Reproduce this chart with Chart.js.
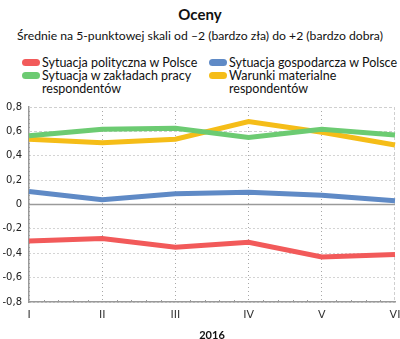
<!DOCTYPE html>
<html>
<head>
<meta charset="utf-8">
<script src="https://cdn.jsdelivr.net/npm/chart.js@4.4.1/dist/chart.umd.min.js"></script>
<style>
  html, body { margin: 0; padding: 0; background: #fff; }
  body { width: 400px; height: 339px; position: relative; overflow: hidden; font-family: Lato, sans-serif; color: #111; }
  #title { position: absolute; top: 5px; left: 0; width: 400px; text-align: center; font-weight: bold; font-size: 15px; }
  #subtitle { position: absolute; top: 28px; left: 0; width: 400px; text-align: center; font-size: 12.2px; }
  .leg { position: absolute; font-size: 12.5px; line-height: 13px; }
  .leg .sw { position: absolute; left: -20px; top: 3px; width: 18px; height: 7px; border-radius: 4px; }
  #chart { position: absolute; top: 0; left: 0; }
</style>
</head>
<body>
<div id="title">Oceny</div>
<div id="subtitle">Średnie na 5-punktowej skali od –2 (bardzo zła) do +2 (bardzo dobra)</div>
<div id="legend"></div>
<canvas id="chart" width="400" height="339"></canvas>
<script>
const months = ['I', 'II', 'III', 'IV', 'V', 'VI'];
const yearLabel = '2016';

const seriesNames = [
  'Sytuacja polityczna w Polsce',
  'Sytuacja gospodarcza w Polsce',
  'Sytuacja w zakładach pracy respondentów',
  'Warunki materialne respondentów'
];
const polityczna = [-0.30, -0.28, -0.35, -0.31, -0.43, -0.41];
const gospodarcza = [0.107, 0.04, 0.088, 0.10, 0.075, 0.03];
const zaklady = [0.565, 0.617, 0.625, 0.55, 0.617, 0.57];
const warunki = [0.535, 0.507, 0.535, 0.68, 0.593, 0.488];
const colors = ['#f25a5a', '#5f8ac6', '#6ccb72', '#f5bd18'];

// legend in html, two columns, wrapping like the original
const legendPos = [
  { left: 42, top: 56, width: 160 },
  { left: 229, top: 56, width: 170 },
  { left: 42, top: 69, width: 150 },
  { left: 229, top: 69, width: 150 }
];
const legendEl = document.getElementById('legend');
seriesNames.forEach((name, i) => {
  const d = document.createElement('div');
  d.className = 'leg';
  d.style.left = legendPos[i].left + 'px';
  d.style.top = legendPos[i].top + 'px';
  d.style.width = legendPos[i].width + 'px';
  d.innerHTML = '<span class="sw" style="background:' + colors[i] + '"></span>' + name;
  legendEl.appendChild(d);
});

const values = [polityczna, gospodarcza, zaklady, warunki];
const datasets = values.map((v, i) => ({
  label: seriesNames[i],
  data: v,
  borderColor: colors[i],
  backgroundColor: colors[i],
  borderWidth: 5,
  pointRadius: 0,
  tension: 0,
  fill: false
}));

// extra axis decoration: solid zero line, dashed frame lines, small minor ticks
const axisExtras = {
  id: 'axisExtras',
  beforeDatasetsDraw: (chart) => {
    const { left, right, top, bottom } = chart.chartArea;
    const xs = chart.scales.x, ys = chart.scales.y;
    const c = chart.ctx;
    c.save();
    // dashed light lines at 0.8 / 0.6 and at the right edge
    c.strokeStyle = '#cfcfcf';
    c.lineWidth = 1;
    c.setLineDash([3, 2]);
    [0.8, 0.6].forEach(v => {
      const y = Math.round(ys.getPixelForValue(v)) + 0.5;
      c.beginPath(); c.moveTo(left, y); c.lineTo(right, y); c.stroke();
    });
    const xr = Math.round(xs.getPixelForValue(months.length - 1)) - 0.5;
    c.beginPath(); c.moveTo(xr, top); c.lineTo(xr, bottom); c.stroke();
    c.setLineDash([]);
    // zero line
    const y0 = ys.getPixelForValue(0);
    c.strokeStyle = '#9a9a9a';
    c.lineWidth = 1.5;
    c.beginPath(); c.moveTo(left, y0); c.lineTo(right, y0); c.stroke();
    // minor ticks on the x axis (5 per month)
    c.strokeStyle = '#999';
    c.lineWidth = 1;
    for (let i = 0; i < months.length - 1; i++) {
      for (let k = 1; k < 5; k++) {
        const x = Math.round(xs.getPixelForValue(i + k / 5)) + 0.5;
        c.beginPath(); c.moveTo(x, bottom); c.lineTo(x, bottom - 2); c.stroke();
      }
    }
    c.restore();
  }
};

const ctx = document.getElementById('chart').getContext('2d');
new Chart(ctx, {
  type: 'line',
  data: { labels: months, datasets: datasets },
  options: {
    responsive: false,
    animation: false,
    layout: { padding: { top: 107, right: 5, left: 0, bottom: 0 } },
    plugins: { legend: { display: false }, tooltip: { enabled: false } },
    scales: {
      x: {
        grid: {
          color: (c) => (c.index === months.length - 1) ? 'rgba(0,0,0,0)' : '#a8a8a8',
          drawTicks: false,
          lineWidth: 1
        },
        border: { display: true, color: '#999', width: 1.5, dash: [1, 3] },
        ticks: {
          padding: 7,
          color: '#333',
          font: { family: 'DejaVu Sans', size: 11 },
          maxRotation: 0,
          autoSkip: false
        },
        title: {
          display: true,
          text: yearLabel,
          color: '#111',
          font: { family: 'Lato', size: 11, weight: 'bold' },
          padding: { top: 0, bottom: -3 }
        },
        afterFit: (scale) => { scale.paddingRight = 0; scale.paddingLeft = 0; scale.height = 37; }
      },
      y: {
        min: -0.8,
        max: 0.8,
        ticks: {
          stepSize: 0.2,
          padding: 7,
          color: '#222',
          font: { family: 'DejaVu Sans', size: 10 },
          callback: (v) => {
            const r = Math.round(v * 10) / 10;
            return r === 0 ? '0' : r.toFixed(1).replace('.', ',');
          }
        },
        grid: {
          color: (c) => {
            const v = c.tick ? Math.round(c.tick.value * 10) / 10 : null;
            return (v === 0.8 || v === 0.6 || v === 0) ? 'rgba(0,0,0,0)' : '#a8a8a8';
          },
          lineWidth: 1,
          drawTicks: false
        },
        border: { display: true, color: '#999', width: 1.5, dash: [1, 3] },
        afterFit: (scale) => { scale.width = 29; }
      }
    }
  },
  plugins: [axisExtras]
});
</script>
</body>
</html>
